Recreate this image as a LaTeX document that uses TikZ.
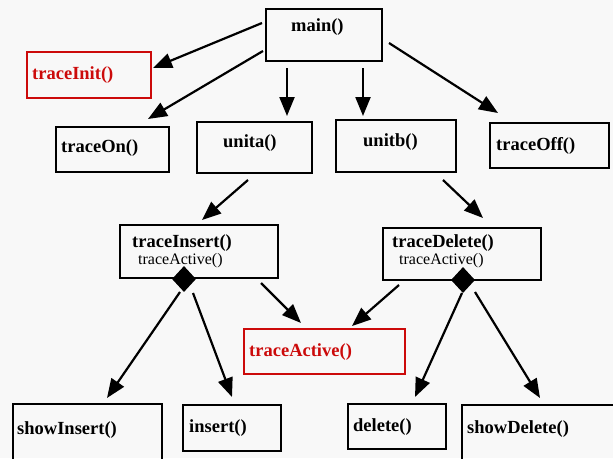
\documentclass[tikz,border=0pt]{standalone}
\usepackage{fontspec}
\setmainfont{Liberation Serif}
\usetikzlibrary{arrows.meta,shapes.geometric}
\definecolor{bg}{HTML}{F8F8F8}
\definecolor{rd}{HTML}{CC0A0A}
\tikzset{
  box/.style={draw=black,line width=2.4pt,rectangle,inner sep=0pt},
  redbox/.style={box,draw=rd},
  lbl/.style={anchor=mid west,inner sep=0pt,yshift=-2pt,font=\fontsize{18.5}{20}\selectfont\bfseries},
  redlbl/.style={lbl,text=rd},
  sub/.style={anchor=mid west,inner sep=0pt,yshift=-1.5pt,font=\fontsize{16}{18}\selectfont},
  arr/.style={line width=2.2pt,-{Triangle[length=19pt,width=15pt]}},
  dia/.style={diamond,fill=black,inner sep=0pt,minimum width=24pt,minimum height=26pt}
}
\begin{document}
\begin{tikzpicture}[x=1pt,y=-1pt]
\fill[bg] (0,0) rectangle (613,458);
\useasboundingbox (0,0) rectangle (613,458);
\begin{scope}
\clip (0,0) rectangle (613,458);
% boxes
\node[box,minimum width=116pt,minimum height=52pt] (main) at (324,35) {};
\node[redbox,minimum width=124pt,minimum height=46pt] (tinit) at (89,75) {};
\node[box,minimum width=113pt,minimum height=45pt] (ton) at (112.5,149.5) {};
\node[box,minimum width=115pt,minimum height=51pt] (unita) at (254.5,147.5) {};
\node[box,minimum width=120pt,minimum height=52pt] (unitb) at (396,146) {};
\node[box,minimum width=119pt,minimum height=45pt] (toff) at (549.5,145.5) {};
\node[box,minimum width=158pt,minimum height=53pt] (tins) at (199,251.5) {};
\node[box,minimum width=158pt,minimum height=52pt] (tdel) at (462,254) {};
\node[redbox,minimum width=161pt,minimum height=45pt] (tact) at (324.5,351.5) {};
\node[box,minimum width=149pt,minimum height=65pt] (shins) at (87.5,436.5) {};
\node[box,minimum width=98pt,minimum height=46pt] (ins) at (232,428) {};
\node[box,minimum width=98pt,minimum height=45pt] (del) at (397,426.5) {};
\node[box,minimum width=162pt,minimum height=64pt] (shdel) at (543,437) {};
\end{scope}
% labels
\node[lbl] (tmain) at (291,27) {main()};
\node[redlbl] (ttinit) at (32,75) {traceInit()};
\node[lbl] (tton) at (61,148) {traceOn()};
\node[lbl] (tunita) at (223,143) {unita()};
\node[lbl] (tunitb) at (363,142) {unitb()};
\node[lbl] (ttoff) at (496,146) {traceOff()};
\node[lbl] (ttins) at (132,243) {traceInsert()};
\node[sub] (stins) at (138,261) {traceActive()};
\node[lbl] (ttdel) at (392,243) {traceDelete()};
\node[sub] (stdel) at (399,261) {traceActive()};
\node[redlbl] (ttact) at (249,352) {traceActive()};
\node[lbl] (tshins) at (17,430) {showInsert()};
\node[lbl] (tins2) at (189,428) {insert()};
\node[lbl] (tdel2) at (353,427) {delete()};
\node[lbl] (tshdel) at (467,429) {showDelete()};
% diamonds
\node[dia] (d1) at (184,279) {};
\node[dia] (d2) at (463,280) {};
% connector end points
\coordinate (a1s) at (262,23);  \coordinate (a1e) at (153,68);
\coordinate (a2s) at (263,51);  \coordinate (a2e) at (148,119);
\coordinate (a3s) at (287,68);  \coordinate (a3e) at (287,116);
\coordinate (a4s) at (363,68);  \coordinate (a4e) at (363,116);
\coordinate (a5s) at (389,43);  \coordinate (a5e) at (498,113);
\coordinate (a6s) at (248,180); \coordinate (a6e) at (202,220);
\coordinate (a7s) at (443,180); \coordinate (a7e) at (483,218);
\coordinate (a8s) at (180,292); \coordinate (a8e) at (107,398);
\coordinate (a9s) at (193,293); \coordinate (a9e) at (232,397);
\coordinate (a10s) at (261,283); \coordinate (a10e) at (301,323);
\coordinate (a11s) at (399,285); \coordinate (a11e) at (352,326);
\coordinate (a12s) at (462,293); \coordinate (a12e) at (415,397);
\coordinate (a13s) at (475,292); \coordinate (a13e) at (540,398);
\foreach \i in {1,...,13} { \draw[arr] (a\i s) -- (a\i e); }
\end{tikzpicture}
\end{document}
